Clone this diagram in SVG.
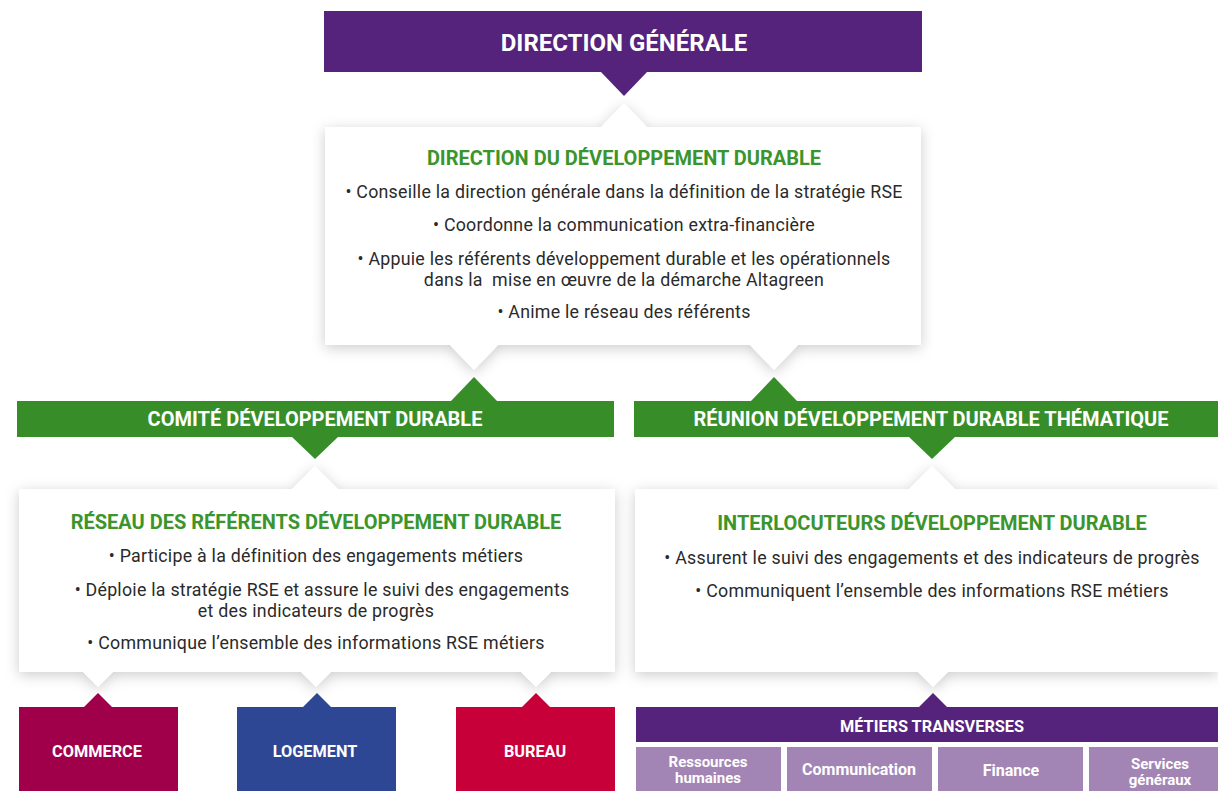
<svg xmlns="http://www.w3.org/2000/svg" width="1218" height="791" viewBox="0 0 1218 791">
<defs>
<filter id="sh" x="-10%" y="-20%" width="120%" height="140%">
<feDropShadow dx="0" dy="3" stdDeviation="7" flood-color="#000" flood-opacity="0.2"/>
</filter>
<style>
text{font-family:Roboto,"Liberation Sans",sans-serif;text-anchor:middle}
.hd{font-weight:700;fill:#fff}
.h22{font-size:24px}
.h18{font-size:20px}
.h15{font-size:16.3px}
.h14{font-size:16px}
.h14s{font-size:15px}
.ttl{font-weight:700;font-size:20px;fill:#3b952c}
.bl{font-size:17.8px;letter-spacing:0.25px;fill:#2a2a2a}
.card{fill:#fff;filter:url(#sh)}
.purple{fill:#55237b}
.green{fill:#378e29}
.lp{fill:#a385b5}
</style>
</defs>
<rect width="1218" height="791" fill="#fff"/>

<g id="connectors">
<polygon class="purple" points="601,72 647,72 624,96"/>
<polygon class="green" points="451,401 497,401 474,377"/>
<polygon class="green" points="751,401 797,401 774,377"/>
<polygon class="green" points="292,437 338,437 315,459"/>
<polygon class="green" points="909,437 955,437 932,459"/>
<polygon fill="#a0004a" points="84,707 112,707 98,693"/>
<polygon fill="#2e4795" points="303,707 331,707 317,693"/>
<polygon fill="#c8003a" points="522,707 550,707 536,693"/>
<polygon class="purple" points="919,707 947,707 933,693"/>
</g>

<g id="direction-generale">
<rect class="purple" x="324" y="11" width="598" height="61"/>
<text class="hd h22" x="624" y="51">DIRECTION GÉNÉRALE</text>
</g>

<g id="direction-dd">
<path class="card" d="M325,127 L601,127 L624,103 L647,127 L921,127 L921,345 L798,345 L774,370 L750,345 L498,345 L474,370 L450,345 L325,345 Z"/>
<text class="ttl" x="624" y="165">DIRECTION DU DÉVELOPPEMENT DURABLE</text>
<text class="bl" x="624" y="198">• Conseille la direction générale dans la définition de la stratégie RSE</text>
<text class="bl" x="624" y="231">• Coordonne la communication extra-financière</text>
<text class="bl" x="624" y="265" style="white-space:pre">• Appuie les référents développement durable et les opérationnels<tspan x="624" dy="21">dans la  mise en œuvre de la démarche Altagreen</tspan></text>
<text class="bl" x="624" y="318">• Anime le réseau des référents</text>
</g>

<g id="comite-dd">
<rect class="green" x="17" y="401" width="597" height="36"/>
<text class="hd h18" x="315" y="426">COMITÉ DÉVELOPPEMENT DURABLE</text>
</g>

<g id="reunion-dd">
<rect class="green" x="634" y="401" width="584" height="36"/>
<text class="hd h18" x="931" y="426">RÉUNION DÉVELOPPEMENT DURABLE THÉMATIQUE</text>
</g>

<g id="reseau-referents">
<path class="card" d="M19,489 L292,489 L315,466 L338,489 L615,489 L615,672 L551,672 L536,687 L521,672 L331,672 L316,687 L301,672 L113,672 L98,687 L83,672 L19,672 Z"/>
<text class="ttl" x="316" y="529">RÉSEAU DES RÉFÉRENTS DÉVELOPPEMENT DURABLE</text>
<text class="bl" x="316" y="562">• Participe à la définition des engagements métiers</text>
<text class="bl" x="322" y="596">• Déploie la stratégie RSE et assure le suivi des engagements<tspan x="316" dy="21">et des indicateurs de progrès</tspan></text>
<text class="bl" x="316" y="649">• Communique l’ensemble des informations RSE métiers</text>
</g>

<g id="interlocuteurs">
<path class="card" d="M635,489 L909,489 L932,466 L955,489 L1218,489 L1218,672 L948,672 L933,687 L918,672 L635,672 Z"/>
<text class="ttl" x="932" y="530">INTERLOCUTEURS DÉVELOPPEMENT DURABLE</text>
<text class="bl" x="932" y="564">• Assurent le suivi des engagements et des indicateurs de progrès</text>
<text class="bl" x="932" y="597">• Communiquent l’ensemble des informations RSE métiers</text>
</g>

<g id="commerce">
<rect fill="#a0004a" x="19" y="707" width="159" height="84"/>
<text class="hd h15" x="97" y="757">COMMERCE</text>
</g>
<g id="logement">
<rect fill="#2e4795" x="237" y="707" width="159" height="84"/>
<text class="hd h15" x="315" y="757">LOGEMENT</text>
</g>
<g id="bureau">
<rect fill="#c8003a" x="456" y="707" width="159" height="84"/>
<text class="hd h15" x="535" y="757">BUREAU</text>
</g>

<g id="metiers-transverses">
<rect class="purple" x="636" y="707" width="582" height="35"/>
<text class="hd h15" x="932" y="732">MÉTIERS TRANSVERSES</text>
</g>
<g id="rh">
<rect class="lp" x="636" y="747" width="145" height="44"/>
<text class="hd h14s" x="708" y="767">Ressources<tspan x="708" dy="16">humaines</tspan></text>
</g>
<g id="communication">
<rect class="lp" x="787" y="747" width="145" height="44"/>
<text class="hd h14" x="859" y="775">Communication</text>
</g>
<g id="finance">
<rect class="lp" x="938" y="747" width="145" height="44"/>
<text class="hd h14" x="1011" y="776">Finance</text>
</g>
<g id="services-generaux">
<rect class="lp" x="1089" y="747" width="129" height="44"/>
<text class="hd h14s" x="1160" y="769">Services<tspan x="1160" dy="16">généraux</tspan></text>
</g>
</svg>
